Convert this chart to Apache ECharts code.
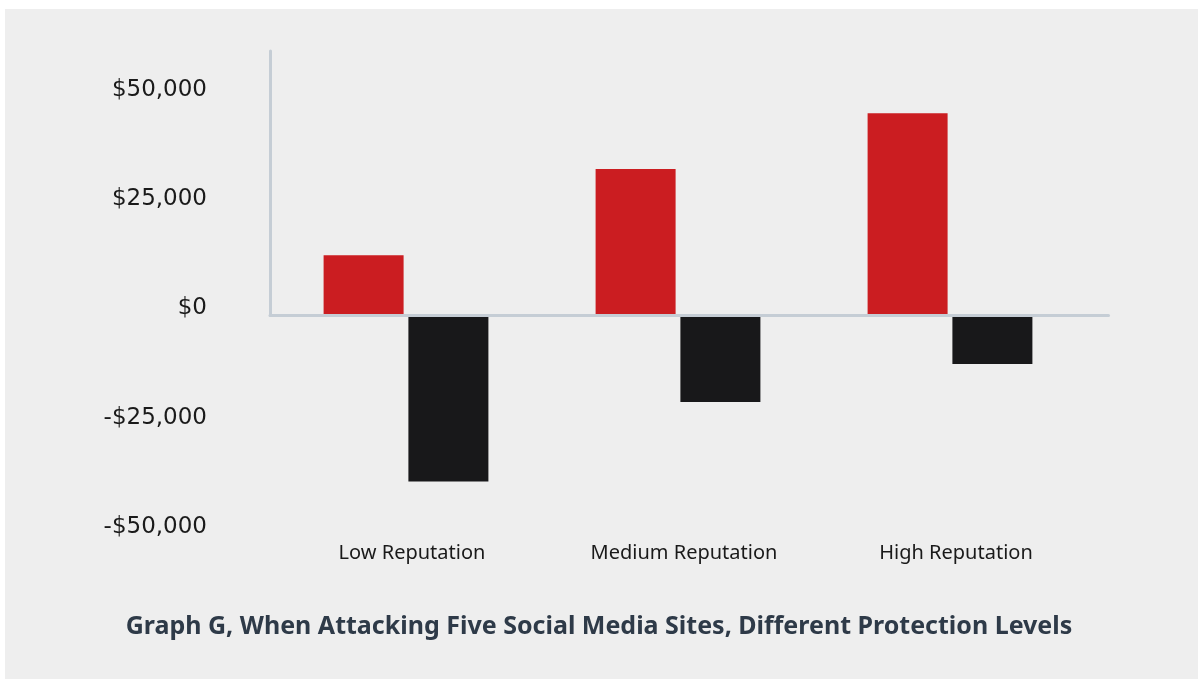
<!DOCTYPE html>
<html>
<head>
<meta charset="utf-8">
<script src="https://cdn.jsdelivr.net/npm/echarts@6/dist/echarts.min.js"></script>
<style>
  html, body { margin: 0; padding: 0; background: #ffffff; }
  #bg { position: absolute; left: 5px; top: 9px; width: 1193px; height: 670px; background: #eeeeee; }
  #chart { position: absolute; left: 0; top: 0; width: 1198px; height: 679px; }
</style>
</head>
<body>
<div id="bg"></div>
<div id="chart"></div>
<script>
const categories = ['Low Reputation', 'Medium Reputation', 'High Reputation'];
const redValues = [13800, 33500, 46300];
const blackValues = [-38000, -19800, -11100];
const yTicks = [-50000, -25000, 0, 25000, 50000];
const yTickLabels = ['-$50,000', '-$25,000', '$0', '$25,000', '$50,000'];
const titleText = 'Graph G, When Attacking Five Social Media Sites, Different Protection Levels';

const chart = echarts.init(document.getElementById('chart'), null, { renderer: 'canvas' });
chart.setOption({
  backgroundColor: 'transparent',
  animation: false,
  title: {
    text: titleText,
    left: 'center',
    top: 609,
    textStyle: { fontFamily: 'Noto Sans', fontWeight: 'bold', fontSize: 25, color: '#2e3a48' }
  },
  grid: [
    { left: 270, right: 112, top: 97, bottom: 145 },
    { left: 270, right: 89.5, top: 51, bottom: 363.5 }
  ],
  xAxis: [
    {
      type: 'category', gridIndex: 0, data: categories,
      axisLine: { show: false, onZero: false },
      axisTick: { show: false },
      axisLabel: { margin: 9, fontFamily: 'Noto Sans', fontSize: 20, color: '#1a1a1a', padding: [0, 0, 0, 12] }
    },
    {
      type: 'category', gridIndex: 1, data: categories, z: 5,
      axisLine: { show: true, onZero: false, lineStyle: { color: '#c5cdd5', width: 3 } },
      axisTick: { show: false },
      axisLabel: { show: false }
    }
  ],
  yAxis: [
    {
      type: 'value', gridIndex: 0, min: -50000, max: 50000, interval: 25000,
      axisLine: { show: false }, axisTick: { show: false }, splitLine: { show: false },
      axisLabel: {
        margin: 63, fontFamily: 'DejaVu Sans', fontSize: 23, color: '#1a1a1a',
        verticalAlign: 'bottom', lineHeight: 14,
        formatter: v => yTickLabels[yTicks.indexOf(v)]
      }
    },
    {
      type: 'value', gridIndex: 1, min: 0, max: 1, z: 5,
      axisLine: { show: true, lineStyle: { color: '#c5cdd5', width: 3 } },
      axisTick: { show: false }, splitLine: { show: false },
      axisLabel: { show: false }
    }
  ],
  series: [
    {
      type: 'bar', xAxisIndex: 0, yAxisIndex: 0, data: redValues,
      barWidth: 80, barGap: '6%',
      itemStyle: { color: '#cb1d21' }
    },
    {
      type: 'bar', xAxisIndex: 0, yAxisIndex: 0, data: blackValues,
      barWidth: 80, barGap: '6%',
      itemStyle: { color: '#18181a' }
    }
  ]
});
</script>
</body>
</html>
